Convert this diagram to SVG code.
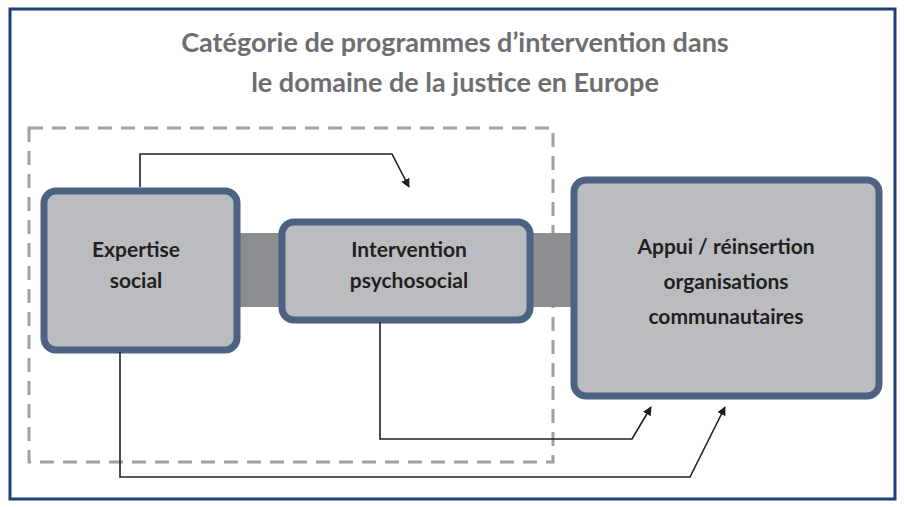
<svg xmlns="http://www.w3.org/2000/svg" width="904" height="507" viewBox="0 0 904 507">
<style>
.node{fill:#bbbcc0;stroke:#4d6180;stroke-width:7}
.t{font-family:"Lato","Liberation Sans",sans-serif;font-weight:bold;font-size:21px;fill:#231f20;text-anchor:middle}
.c{fill:none;stroke:#231f20;stroke-width:1.6}
</style>
<defs><marker id="a" viewBox="0 0 10 10" refX="9" refY="5" markerWidth="9" markerHeight="9" orient="auto-start-reverse" markerUnits="userSpaceOnUse"><path d="M0,0L10,5L0,10z" fill="#231f20"/></marker></defs>
<rect width="904" height="507" fill="#fff"/>
<rect x="10" y="9" width="885" height="490" fill="none" stroke="#1f3f74" stroke-width="3"/>
<text x="455" y="52" style="font-family:Lato,'Liberation Sans',sans-serif;font-weight:bold;font-size:27px;fill:#6d6e71" text-anchor="middle">Catégorie de programmes d’intervention dans</text>
<text x="455" y="92" style="font-family:Lato,'Liberation Sans',sans-serif;font-weight:bold;font-size:27px;fill:#6d6e71" text-anchor="middle">le domaine de la justice en Europe</text>
<rect x="29" y="128" width="524" height="334" fill="none" stroke="#9d9e a0" stroke-width="3" stroke-dasharray="14,9" style="stroke:#9fa0a2"/>
<rect x="235" y="233" width="345" height="74" fill="#8c8d90"/>
<g id="expertise"><rect class="node" x="44" y="191" width="193" height="159" rx="12"/><text class="t" x="136" y="257">Expertise</text><text class="t" x="136" y="288">social</text></g>
<g id="intervention"><rect class="node" x="282" y="222" width="248" height="98" rx="12"/><text class="t" x="409" y="257">Intervention</text><text class="t" x="409" y="288">psychosocial</text></g>
<g id="appui"><rect class="node" x="574" y="180" width="305" height="216" rx="12"/><text class="t" x="726" y="254">Appui / réinsertion</text><text class="t" x="726" y="289">organisations</text><text class="t" x="726" y="324">communautaires</text></g>
<g id="connectors">
<path class="c" d="M140,187V154H392L409,187" marker-end="url(#a)"/>
<path class="c" d="M380,322V439H632L651,407" marker-end="url(#a)"/>
<path class="c" d="M120,352V477H690L725,407" marker-end="url(#a)"/>
</g>
</svg>
